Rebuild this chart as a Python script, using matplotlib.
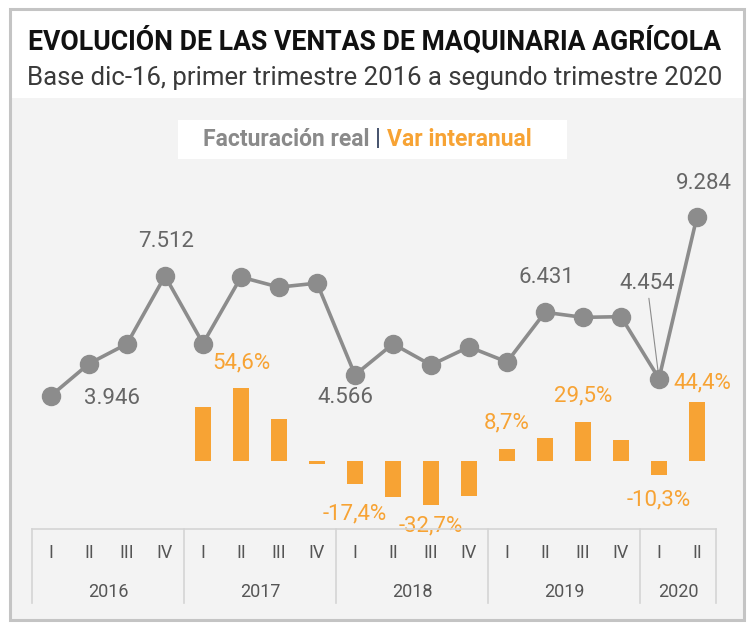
import matplotlib.pyplot as plt
import matplotlib.transforms as mtransforms
from matplotlib.patches import Rectangle

# datos
trimestres = ['I', 'II', 'III', 'IV', 'I', 'II', 'III', 'IV', 'I', 'II', 'III', 'IV',
              'I', 'II', 'III', 'IV', 'I', 'II']
anios = ['2016', '2017', '2018', '2019', '2020']
trimestres_por_anio = [4, 4, 4, 4, 2]
facturacion = [3946, 4900, 5490, 7512, 5500, 7480, 7180, 7300, 4566, 5490, 4860, 5400,
               4950, 6431, 6280, 6300, 4454, 9284]
var_interanual = [None, None, None, None, 40.3, 54.6, 31.3, -2.3, -17.4, -26.9, -32.7, -26.0,
                  8.7, 17.2, 29.5, 15.7, -10.3, 44.4]

# etiquetas que aparecen en el grafico: indice -> (dx, dy) en puntos
etiq_linea = {0: (44, -2), 3: (1, 24.5), 8: (-7, -16.5), 13: (1, 25), 17: (5, 24)}
etiq_barras = {5: (0, 18), 12: (0, 18.7), 14: (0, 18.7), 17: (4, 13.7),
               8: (0, -21), 10: (0, -15), 16: (0, -18)}

gris = '#8c8c8c'
gris_txt = '#666666'
naranja = '#f7a334'

plt.rcParams['font.family'] = ['Roboto', 'DejaVu Sans']

fig = plt.figure(figsize=(7.5, 6.24), dpi=100)
W, H = 750, 624

def fx(px):
    return px / W

def fy(py):
    return 1 - py / H

# marco y fondos
fig.patches.append(Rectangle((fx(10), fy(620)), fx(734), 522 / H, transform=fig.transFigure,
                             facecolor='#f3f3f3', edgecolor='none', zorder=-2))
fig.patches.append(Rectangle((fx(10), fy(620)), fx(734), 611 / H, transform=fig.transFigure,
                             facecolor='none', edgecolor='#c4c4c4', lw=2.2, zorder=5))
fig.patches.append(Rectangle((fx(178), fy(159)), fx(389), 39 / H, transform=fig.transFigure,
                             facecolor='white', edgecolor='none', zorder=-1))

fig.text(0.5, fy(42), 'EVOLUCIÓN DE LAS VENTAS DE MAQUINARIA AGRÍCOLA', ha='center', va='center',
         fontsize=19.2, fontweight='bold', color='#111111')
fig.text(0.5, fy(78), 'Base dic-16, primer trimestre 2016 a segundo trimestre 2020', ha='center',
         va='center', fontsize=18.5, color='#3a3a3a')

# leyenda
t1 = fig.text(fx(203), fy(139), 'Facturación real ', ha='left', va='center', fontsize=16.5,
              fontweight='bold', color='#8a8a8a')
fig.canvas.draw()
bb = t1.get_window_extent()
t2 = fig.text(bb.x1 / W, fy(139), '| ', ha='left', va='center', fontsize=16.5,
              fontweight='bold', color='#4a5670')
bb2 = t2.get_window_extent()
fig.text(bb2.x1 / W, fy(139), 'Var interanual', ha='left', va='center', fontsize=16.5,
         fontweight='bold', color=naranja)

# ejes
ax = fig.add_axes([fx(32), fy(529), 684 / W, 359 / H])
ax.set_facecolor('none')
ax2 = ax.twinx()
for a in (ax, ax2):
    a.set_axis_off()
x = list(range(len(facturacion)))
ax.set_xlim(-0.5, 17.5)
ax.set_ylim(-27, 10671)
ax2.set_ylim(-50.7, 217.2)

bx = [i for i, v in enumerate(var_interanual) if v is not None]
bv = [v for v in var_interanual if v is not None]
ax2.bar(bx, bv, width=0.4, color=naranja, zorder=2)
ax.set_zorder(3)
ax2.set_zorder(2)
ax.plot(x, facturacion, color=gris, lw=2.6, marker='o', markersize=13, zorder=4)

for i, (dx, dy) in etiq_linea.items():
    ax.annotate(f'{facturacion[i]:,}'.replace(',', '.'), (x[i], facturacion[i]),
                xytext=(dx, dy), textcoords='offset points', ha='center', va='center',
                fontsize=16, color=gris_txt)
ax.annotate(f'{facturacion[16]:,}'.replace(',', '.'), (x[16], facturacion[16]),
            xytext=(-8.6, 68.4), textcoords='offset points', ha='center', va='center',
            fontsize=16, color=gris_txt,
            arrowprops=dict(arrowstyle='-', color=gris, lw=0.8, shrinkA=1, shrinkB=6))

for i, (dx, dy) in etiq_barras.items():
    ax2.annotate(f'{var_interanual[i]:.1f}%'.replace('.', ','), (x[i], var_interanual[i]),
                 xytext=(dx, dy), textcoords='offset points', ha='center', va='center',
                 fontsize=16, color=naranja)

# eje de categorias
tr = mtransforms.blended_transform_factory(ax.transData, fig.transFigure)
lc = '#d4d4d4'
ax.plot([-0.5, 17.5], [fy(529), fy(529)], transform=tr, color=lc, lw=1.2, clip_on=False)
pos = -0.5
ax.plot([pos, pos], [fy(529), fy(603)], transform=tr, color=lc, lw=1.2, clip_on=False)
for anio, n in zip(anios, trimestres_por_anio):
    ax.text(pos + n / 2, fy(592), anio, transform=tr, ha='center', va='center',
            fontsize=13, color='#555555')
    pos += n
    ax.plot([pos, pos], [fy(529), fy(603)], transform=tr, color=lc, lw=1.2, clip_on=False)
for i, t in enumerate(trimestres):
    ax.text(i, fy(553), t, transform=tr, ha='center', va='center', fontsize=13,
            color='#555555')

fig.savefig('out.png', dpi=100)
